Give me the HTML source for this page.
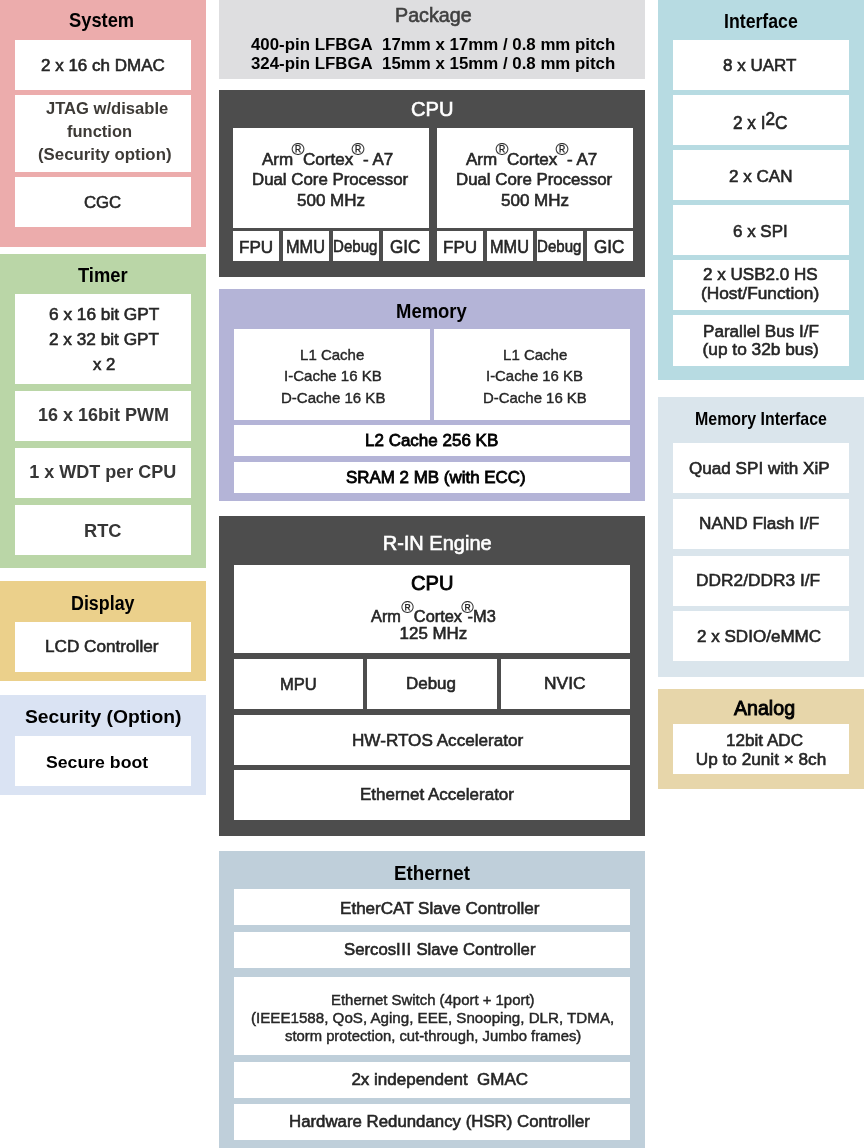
<!DOCTYPE html>
<html><head><meta charset="utf-8"><title>RZ/N1 block diagram</title>
<style>
html,body{margin:0;padding:0;background:#fff}
body{width:864px;height:1148px;position:relative;overflow:hidden;font-family:'Liberation Sans', sans-serif}
.r{position:absolute}
.t{position:absolute;white-space:nowrap;transform-origin:0 0;filter:grayscale(0.01);-webkit-text-stroke:0.6px currentColor}
.b{font-weight:bold;-webkit-text-stroke:0}

.sup{position:relative;top:-0.6em;font-size:1.04em;margin:0 -0.09em;-webkit-text-stroke-width:0.15px}
.supa{position:relative;top:-0.52em;font-size:1.04em;margin:0 0 0 0.02em;-webkit-text-stroke-width:0.15px}
.supb{position:relative;top:-0.52em;font-size:1.04em;margin:0 -0.36em 0 -0.05em;-webkit-text-stroke-width:0.15px}
.sup2{position:relative;top:-0.19em}
.iii{letter-spacing:0.035em}

</style></head><body>
<div class="r" style="left:0px;top:0px;width:206px;height:247px;background:#ECACAC"></div>
<div class="r" style="left:15px;top:40px;width:176px;height:50px;background:#FFFFFF"></div>
<div class="r" style="left:15px;top:95px;width:176px;height:77px;background:#FFFFFF"></div>
<div class="r" style="left:15px;top:177px;width:176px;height:50px;background:#FFFFFF"></div>
<div class="r" style="left:0px;top:254px;width:206px;height:314px;background:#BAD6A7"></div>
<div class="r" style="left:15px;top:294px;width:176px;height:90px;background:#FFFFFF"></div>
<div class="r" style="left:15px;top:391px;width:176px;height:50px;background:#FFFFFF"></div>
<div class="r" style="left:15px;top:448px;width:176px;height:50px;background:#FFFFFF"></div>
<div class="r" style="left:15px;top:505px;width:176px;height:50px;background:#FFFFFF"></div>
<div class="r" style="left:0px;top:581px;width:206px;height:100px;background:#EBD08B"></div>
<div class="r" style="left:15px;top:622px;width:176px;height:50px;background:#FFFFFF"></div>
<div class="r" style="left:0px;top:695px;width:206px;height:100px;background:#DAE3F3"></div>
<div class="r" style="left:15px;top:736px;width:176px;height:50px;background:#FFFFFF"></div>
<div class="r" style="left:219px;top:0px;width:426px;height:79px;background:#DEDEE0"></div>
<div class="r" style="left:219px;top:90px;width:426px;height:187px;background:#4D4D4D"></div>
<div class="r" style="left:233px;top:128px;width:196px;height:100px;background:#FFFFFF"></div>
<div class="r" style="left:437px;top:128px;width:196px;height:100px;background:#FFFFFF"></div>
<div class="r" style="left:233px;top:231px;width:46px;height:30px;background:#FFFFFF"></div>
<div class="r" style="left:283px;top:231px;width:46px;height:30px;background:#FFFFFF"></div>
<div class="r" style="left:333px;top:231px;width:46px;height:30px;background:#FFFFFF"></div>
<div class="r" style="left:383px;top:231px;width:46px;height:30px;background:#FFFFFF"></div>
<div class="r" style="left:437px;top:231px;width:46px;height:30px;background:#FFFFFF"></div>
<div class="r" style="left:487px;top:231px;width:46px;height:30px;background:#FFFFFF"></div>
<div class="r" style="left:537px;top:231px;width:46px;height:30px;background:#FFFFFF"></div>
<div class="r" style="left:587px;top:231px;width:46px;height:30px;background:#FFFFFF"></div>
<div class="r" style="left:219px;top:289px;width:426px;height:212px;background:#B4B4D7"></div>
<div class="r" style="left:234px;top:329px;width:196px;height:91px;background:#FFFFFF"></div>
<div class="r" style="left:434px;top:329px;width:196px;height:91px;background:#FFFFFF"></div>
<div class="r" style="left:234px;top:425px;width:396px;height:31px;background:#FFFFFF"></div>
<div class="r" style="left:234px;top:462px;width:396px;height:31px;background:#FFFFFF"></div>
<div class="r" style="left:219px;top:516px;width:426px;height:320px;background:#4D4D4D"></div>
<div class="r" style="left:234px;top:565px;width:396px;height:88px;background:#FFFFFF"></div>
<div class="r" style="left:234px;top:659px;width:129px;height:50px;background:#FFFFFF"></div>
<div class="r" style="left:367px;top:659px;width:130px;height:50px;background:#FFFFFF"></div>
<div class="r" style="left:501px;top:659px;width:129px;height:50px;background:#FFFFFF"></div>
<div class="r" style="left:234px;top:715px;width:396px;height:50px;background:#FFFFFF"></div>
<div class="r" style="left:234px;top:770px;width:396px;height:50px;background:#FFFFFF"></div>
<div class="r" style="left:219px;top:851px;width:426px;height:297px;background:#BFCFDA"></div>
<div class="r" style="left:234px;top:889px;width:396px;height:36px;background:#FFFFFF"></div>
<div class="r" style="left:234px;top:932px;width:396px;height:36px;background:#FFFFFF"></div>
<div class="r" style="left:234px;top:977px;width:396px;height:78px;background:#FFFFFF"></div>
<div class="r" style="left:234px;top:1062px;width:396px;height:36px;background:#FFFFFF"></div>
<div class="r" style="left:234px;top:1104px;width:396px;height:36px;background:#FFFFFF"></div>
<div class="r" style="left:658px;top:0px;width:206px;height:380px;background:#B7DBE2"></div>
<div class="r" style="left:673px;top:40px;width:176px;height:50px;background:#FFFFFF"></div>
<div class="r" style="left:673px;top:95px;width:176px;height:50px;background:#FFFFFF"></div>
<div class="r" style="left:673px;top:150px;width:176px;height:50px;background:#FFFFFF"></div>
<div class="r" style="left:673px;top:205px;width:176px;height:50px;background:#FFFFFF"></div>
<div class="r" style="left:673px;top:260px;width:176px;height:50px;background:#FFFFFF"></div>
<div class="r" style="left:673px;top:315px;width:176px;height:51px;background:#FFFFFF"></div>
<div class="r" style="left:658px;top:397px;width:206px;height:280px;background:#DAE5EC"></div>
<div class="r" style="left:673px;top:443px;width:176px;height:50px;background:#FFFFFF"></div>
<div class="r" style="left:673px;top:499px;width:176px;height:50px;background:#FFFFFF"></div>
<div class="r" style="left:673px;top:556px;width:176px;height:50px;background:#FFFFFF"></div>
<div class="r" style="left:673px;top:611px;width:176px;height:50px;background:#FFFFFF"></div>
<div class="r" style="left:658px;top:689px;width:206px;height:100px;background:#E7D6AA"></div>
<div class="r" style="left:673px;top:724px;width:176px;height:50px;background:#FFFFFF"></div>
<div class="t b" style="left:68.60px;top:9.90px;font-size:20.78px;line-height:20.78px;color:#000000;transform:scale(0.8820,1.0);transform-origin:0 17.00px">System</div>
<div class="t" style="left:41.00px;top:57.00px;font-size:17.10px;line-height:17.10px;color:#262626;transform:scale(0.9944,1.0);transform-origin:0 14.00px">2 x 16 ch DMAC</div>
<div class="t b" style="left:45.60px;top:101.40px;font-size:15.99px;line-height:15.99px;color:#3d3a36;transform:scale(1.0376,1.0);transform-origin:0 13.00px">JTAG w/disable</div>
<div class="t b" style="left:67.00px;top:124.30px;font-size:15.99px;line-height:15.99px;color:#3d3a36;transform:scale(1.0323,1.0);transform-origin:0 13.00px">function</div>
<div class="t b" style="left:38.00px;top:146.70px;font-size:15.99px;line-height:15.99px;color:#3d3a36;transform:scale(1.0512,1.0);transform-origin:0 13.00px">(Security option)</div>
<div class="t" style="left:84.00px;top:194.20px;font-size:17.21px;line-height:17.21px;color:#262626;transform:scale(0.9737,1.0);transform-origin:0 14.00px">CGC</div>
<div class="t b" style="left:78.10px;top:264.70px;font-size:20.64px;line-height:20.64px;color:#000000;transform:scale(0.8894,1.0);transform-origin:0 17.00px">Timer</div>
<div class="t" style="left:49.20px;top:306.20px;font-size:17.39px;line-height:17.39px;color:#262626;transform:scale(0.9928,1.0);transform-origin:0 14.00px">6 x 16 bit GPT</div>
<div class="t" style="left:48.60px;top:330.60px;font-size:17.42px;line-height:17.42px;color:#262626;transform:scale(0.9892,1.0);transform-origin:0 14.00px">2 x 32 bit GPT</div>
<div class="t" style="left:93.00px;top:355.50px;font-size:17.08px;line-height:17.08px;color:#262626;transform:scale(0.9828,1.0);transform-origin:0 14.00px">x 2</div>
<div class="t b" style="left:38.00px;top:406.00px;font-size:18.07px;line-height:18.07px;color:#363636;transform:scale(0.9969,1.0);transform-origin:0 15.00px">16 x 16bit PWM</div>
<div class="t b" style="left:29.30px;top:463.00px;font-size:18.01px;line-height:18.01px;color:#363636;transform:scale(1.0000,1.0);transform-origin:0 15.00px">1 x WDT per CPU</div>
<div class="t b" style="left:83.90px;top:521.70px;font-size:18.15px;line-height:18.15px;color:#363636;transform:scale(1.0059,1.0);transform-origin:0 15.00px">RTC</div>
<div class="t b" style="left:70.80px;top:592.70px;font-size:20.49px;line-height:20.49px;color:#000000;transform:scale(0.8723,1.0);transform-origin:0 17.00px">Display</div>
<div class="t" style="left:45.00px;top:637.90px;font-size:17.19px;line-height:17.19px;color:#262626;transform:scale(0.9983,1.0);transform-origin:0 14.00px">LCD Controller</div>
<div class="t b" style="left:25.20px;top:708.50px;font-size:17.73px;line-height:17.73px;color:#000000;transform:scale(1.0887,1.0);transform-origin:0 14.00px">Security (Option)</div>
<div class="t b" style="left:45.60px;top:754.70px;font-size:16.86px;line-height:16.86px;color:#000000;transform:scale(1.0480,1.0);transform-origin:0 13.00px">Secure boot</div>
<div class="t" style="left:394.60px;top:6.00px;font-size:19.66px;line-height:19.66px;color:#404040;transform:scale(1.0014,1.0);transform-origin:0 16.00px">Package</div>
<div class="t b" style="left:251.10px;top:36.80px;font-size:16.87px;line-height:16.87px;color:#000000;transform:scale(0.9995,1.0);transform-origin:0 13.00px">400-pin LFBGA&nbsp; 17mm x 17mm / 0.8 mm pitch</div>
<div class="t b" style="left:251.10px;top:56.40px;font-size:16.87px;line-height:16.87px;color:#000000;transform:scale(0.9995,1.0);transform-origin:0 13.00px">324-pin LFBGA&nbsp; 15mm x 15mm / 0.8 mm pitch</div>
<div class="t" style="left:410.60px;top:99.80px;font-size:19.90px;line-height:19.90px;color:#FFFFFF;transform:scale(1.0103,1.0);transform-origin:0 16.00px">CPU</div>
<div class="t" style="left:261.90px;top:151.20px;font-size:16.72px;line-height:16.72px;color:#262626;transform:scale(1.0188,1.0);transform-origin:0 14.00px">Arm<span class="sup">&#174;</span>Cortex<span class="sup">&#174;</span>- A7</div>
<div class="t" style="left:252.10px;top:172.40px;font-size:16.72px;line-height:16.72px;color:#262626;transform:scale(1.0072,1.0);transform-origin:0 13.00px">Dual Core Processor</div>
<div class="t" style="left:296.70px;top:192.20px;font-size:17.21px;line-height:17.21px;color:#262626;transform:scale(0.9899,1.0);transform-origin:0 14.00px">500 MHz</div>
<div class="t" style="left:238.60px;top:239.60px;font-size:16.63px;line-height:16.63px;color:#262626;transform:scale(1.0261,1.0);transform-origin:0 13.00px">FPU</div>
<div class="t" style="left:285.70px;top:238.60px;font-size:17.59px;line-height:17.59px;color:#262626;transform:scale(0.9277,1.0);transform-origin:0 14.00px">MMU</div>
<div class="t" style="left:333.20px;top:238.40px;font-size:17.01px;line-height:17.01px;color:#262626;transform:scale(0.8860,1.0);transform-origin:0 14.00px">Debug</div>
<div class="t" style="left:390.00px;top:238.60px;font-size:17.65px;line-height:17.65px;color:#262626;transform:scale(0.9677,1.0);transform-origin:0 14.00px">GIC</div>
<div class="t" style="left:465.90px;top:151.20px;font-size:16.72px;line-height:16.72px;color:#262626;transform:scale(1.0188,1.0);transform-origin:0 14.00px">Arm<span class="sup">&#174;</span>Cortex<span class="sup">&#174;</span>- A7</div>
<div class="t" style="left:456.10px;top:172.40px;font-size:16.72px;line-height:16.72px;color:#262626;transform:scale(1.0072,1.0);transform-origin:0 13.00px">Dual Core Processor</div>
<div class="t" style="left:500.70px;top:192.20px;font-size:17.21px;line-height:17.21px;color:#262626;transform:scale(0.9899,1.0);transform-origin:0 14.00px">500 MHz</div>
<div class="t" style="left:442.60px;top:239.60px;font-size:16.63px;line-height:16.63px;color:#262626;transform:scale(1.0261,1.0);transform-origin:0 13.00px">FPU</div>
<div class="t" style="left:489.70px;top:238.60px;font-size:17.59px;line-height:17.59px;color:#262626;transform:scale(0.9277,1.0);transform-origin:0 14.00px">MMU</div>
<div class="t" style="left:537.20px;top:238.40px;font-size:17.01px;line-height:17.01px;color:#262626;transform:scale(0.8860,1.0);transform-origin:0 14.00px">Debug</div>
<div class="t" style="left:594.00px;top:238.60px;font-size:17.65px;line-height:17.65px;color:#262626;transform:scale(0.9677,1.0);transform-origin:0 14.00px">GIC</div>
<div class="t b" style="left:396.10px;top:299.80px;font-size:21.08px;line-height:21.08px;color:#000000;transform:scale(0.8763,1.0);transform-origin:0 18.00px">Memory</div>
<div class="t" style="left:300.10px;top:346.60px;font-size:15.00px;line-height:15.00px;color:#262626;transform:scale(1.0000,1.0);transform-origin:0 13.00px;-webkit-text-stroke-width:0.4px">L1 Cache</div>
<div class="t" style="left:283.50px;top:368.90px;font-size:14.97px;line-height:14.97px;color:#262626;transform:scale(1.0042,1.0);transform-origin:0 12.00px;-webkit-text-stroke-width:0.4px">I-Cache 16 KB</div>
<div class="t" style="left:280.50px;top:390.50px;font-size:14.96px;line-height:14.96px;color:#262626;transform:scale(1.0049,1.0);transform-origin:0 12.00px;-webkit-text-stroke-width:0.4px">D-Cache 16 KB</div>
<div class="t" style="left:503.10px;top:346.60px;font-size:15.00px;line-height:15.00px;color:#262626;transform:scale(1.0000,1.0);transform-origin:0 13.00px;-webkit-text-stroke-width:0.4px">L1 Cache</div>
<div class="t" style="left:486.20px;top:368.90px;font-size:14.94px;line-height:14.94px;color:#262626;transform:scale(0.9979,1.0);transform-origin:0 12.00px;-webkit-text-stroke-width:0.4px">I-Cache 16 KB</div>
<div class="t" style="left:483.20px;top:389.50px;font-size:14.98px;line-height:14.98px;color:#262626;transform:scale(0.9981,1.0);transform-origin:0 13.00px;-webkit-text-stroke-width:0.4px">D-Cache 16 KB</div>
<div class="t" style="left:365.00px;top:431.80px;font-size:16.99px;line-height:16.99px;color:#000000;transform:scale(1.0008,1.0);transform-origin:0 14.00px;-webkit-text-stroke-width:0.8px">L2 Cache 256 KB</div>
<div class="t" style="left:345.80px;top:468.70px;font-size:17.02px;line-height:17.02px;color:#000000;transform:scale(0.9950,1.0);transform-origin:0 14.00px;-webkit-text-stroke-width:0.8px">SRAM 2 MB (with ECC)</div>
<div class="t" style="left:382.70px;top:532.50px;font-size:20.00px;line-height:20.00px;color:#FFFFFF;transform:scale(1.0000,1.0);transform-origin:0 17.00px">R-IN Engine</div>
<div class="t" style="left:411.30px;top:573.80px;font-size:19.90px;line-height:19.90px;color:#000000;transform:scale(1.0103,1.0);transform-origin:0 16.00px;-webkit-text-stroke-width:0.8px">CPU</div>
<div class="t" style="left:370.50px;top:607.90px;font-size:16.42px;line-height:16.42px;color:#262626;transform:scale(0.9968,1.0);transform-origin:0 14.00px">Arm<span class=supa>&#174;</span>Cortex<span class=supb>&#174;</span>-M3</div>
<div class="t" style="left:399.60px;top:625.75px;font-size:16.92px;line-height:16.92px;color:#262626;transform:scale(1.0000,1.0);transform-origin:0 13.00px">125 MHz</div>
<div class="t" style="left:279.80px;top:676.80px;font-size:16.88px;line-height:16.88px;color:#262626;transform:scale(0.9821,1.0);transform-origin:0 13.00px">MPU</div>
<div class="t" style="left:406.00px;top:674.80px;font-size:17.05px;line-height:17.05px;color:#262626;transform:scale(0.9960,1.0);transform-origin:0 14.00px">Debug</div>
<div class="t" style="left:543.80px;top:675.40px;font-size:17.17px;line-height:17.17px;color:#262626;transform:scale(1.0130,1.0);transform-origin:0 14.00px">NVIC</div>
<div class="t" style="left:351.70px;top:731.50px;font-size:17.15px;line-height:17.15px;color:#262626;transform:scale(0.9988,1.0);transform-origin:0 14.00px">HW-RTOS Accelerator</div>
<div class="t" style="left:360.30px;top:786.30px;font-size:17.06px;line-height:17.06px;color:#262626;transform:scale(0.9968,1.0);transform-origin:0 14.00px">Ethernet Accelerator</div>
<div class="t b" style="left:393.90px;top:862.70px;font-size:20.78px;line-height:20.78px;color:#000000;transform:scale(0.9025,1.0);transform-origin:0 17.00px">Ethernet</div>
<div class="t" style="left:340.25px;top:899.90px;font-size:17.06px;line-height:17.06px;color:#262626;transform:scale(1.0013,1.0);transform-origin:0 14.00px">EtherCAT Slave Controller</div>
<div class="t" style="left:344.40px;top:942.30px;font-size:16.82px;line-height:16.82px;color:#262626;transform:scale(0.9953,1.0);transform-origin:0 13.00px">Sercos<span class=iii>III</span> Slave Controller</div>
<div class="t" style="left:330.90px;top:992.70px;font-size:14.93px;line-height:14.93px;color:#262626;transform:scale(0.9995,1.0);transform-origin:0 12.00px;-webkit-text-stroke-width:0.45px">Ethernet Switch (4port + 1port)</div>
<div class="t" style="left:250.60px;top:1010.20px;font-size:15.15px;line-height:15.15px;color:#262626;transform:scale(0.9997,1.0);transform-origin:0 13.00px;-webkit-text-stroke-width:0.45px">(IEEE1588, QoS, Aging, EEE, Snooping, DLR, TDMA,</div>
<div class="t" style="left:285.10px;top:1029.25px;font-size:14.81px;line-height:14.81px;color:#262626;transform:scale(1.0007,1.0);transform-origin:0 12.00px;-webkit-text-stroke-width:0.45px">storm protection, cut-through, Jumbo frames)</div>
<div class="t" style="left:351.40px;top:1071.10px;font-size:17.00px;line-height:17.00px;color:#262626;transform:scale(1.0000,1.0);transform-origin:0 14.00px">2x independent&nbsp; GMAC</div>
<div class="t" style="left:289.30px;top:1113.80px;font-size:16.81px;line-height:16.81px;color:#262626;transform:scale(1.0010,1.0);transform-origin:0 13.00px">Hardware Redundancy (HSR) Controller</div>
<div class="t b" style="left:724.10px;top:10.60px;font-size:20.64px;line-height:20.64px;color:#000000;transform:scale(0.8584,1.0);transform-origin:0 17.00px">Interface</div>
<div class="t" style="left:722.90px;top:56.90px;font-size:17.05px;line-height:17.05px;color:#262626;transform:scale(0.9987,1.0);transform-origin:0 14.00px">8 x UART</div>
<div class="t" style="left:733.00px;top:114.60px;font-size:17.45px;line-height:17.45px;color:#262626;transform:scale(0.9873,1.0);transform-origin:0 14.00px">2 x I<span class=sup2>2</span>C</div>
<div class="t" style="left:729.00px;top:168.00px;font-size:17.25px;line-height:17.25px;color:#262626;transform:scale(0.9889,1.0);transform-origin:0 14.00px">2 x CAN</div>
<div class="t" style="left:733.10px;top:223.20px;font-size:17.23px;line-height:17.23px;color:#262626;transform:scale(0.9853,1.0);transform-origin:0 14.00px">6 x SPI</div>
<div class="t" style="left:702.50px;top:265.80px;font-size:17.16px;line-height:17.16px;color:#262626;transform:scale(0.9939,1.0);transform-origin:0 14.00px">2 x USB2.0 HS</div>
<div class="t" style="left:700.50px;top:284.70px;font-size:17.29px;line-height:17.29px;color:#262626;transform:scale(1.0009,1.0);transform-origin:0 14.00px">(Host/Function)</div>
<div class="t" style="left:702.60px;top:322.80px;font-size:17.07px;line-height:17.07px;color:#262626;transform:scale(1.0018,1.0);transform-origin:0 14.00px">Parallel Bus I/F</div>
<div class="t" style="left:702.60px;top:340.70px;font-size:17.29px;line-height:17.29px;color:#262626;transform:scale(1.0000,1.0);transform-origin:0 14.00px">(up to 32b bus)</div>
<div class="t b" style="left:694.80px;top:410.70px;font-size:17.88px;line-height:17.88px;color:#000000;transform:scale(0.8918,1.0);transform-origin:0 14.00px">Memory Interface</div>
<div class="t" style="left:689.30px;top:459.80px;font-size:17.25px;line-height:17.25px;color:#262626;transform:scale(0.9915,1.0);transform-origin:0 14.00px">Quad SPI with XiP</div>
<div class="t" style="left:698.50px;top:515.00px;font-size:17.14px;line-height:17.14px;color:#262626;transform:scale(1.0025,1.0);transform-origin:0 14.00px">NAND Flash I/F</div>
<div class="t" style="left:695.80px;top:572.30px;font-size:17.25px;line-height:17.25px;color:#262626;transform:scale(1.0041,1.0);transform-origin:0 14.00px">DDR2/DDR3 I/F</div>
<div class="t" style="left:697.40px;top:628.10px;font-size:17.18px;line-height:17.18px;color:#262626;transform:scale(0.9928,1.0);transform-origin:0 14.00px">2 x SDIO/eMMC</div>
<div class="t" style="left:733.80px;top:698.80px;font-size:19.42px;line-height:19.42px;color:#000000;transform:scale(1.0100,1.0);transform-origin:0 16.00px;-webkit-text-stroke-width:0.9px">Analog</div>
<div class="t" style="left:726.00px;top:731.60px;font-size:17.03px;line-height:17.03px;color:#262626;transform:scale(1.0054,1.0);transform-origin:0 14.00px">12bit ADC</div>
<div class="t" style="left:695.80px;top:751.30px;font-size:17.20px;line-height:17.20px;color:#262626;transform:scale(1.0000,1.0);transform-origin:0 14.00px">Up to 2unit &#215; 8ch</div>
</body></html>
